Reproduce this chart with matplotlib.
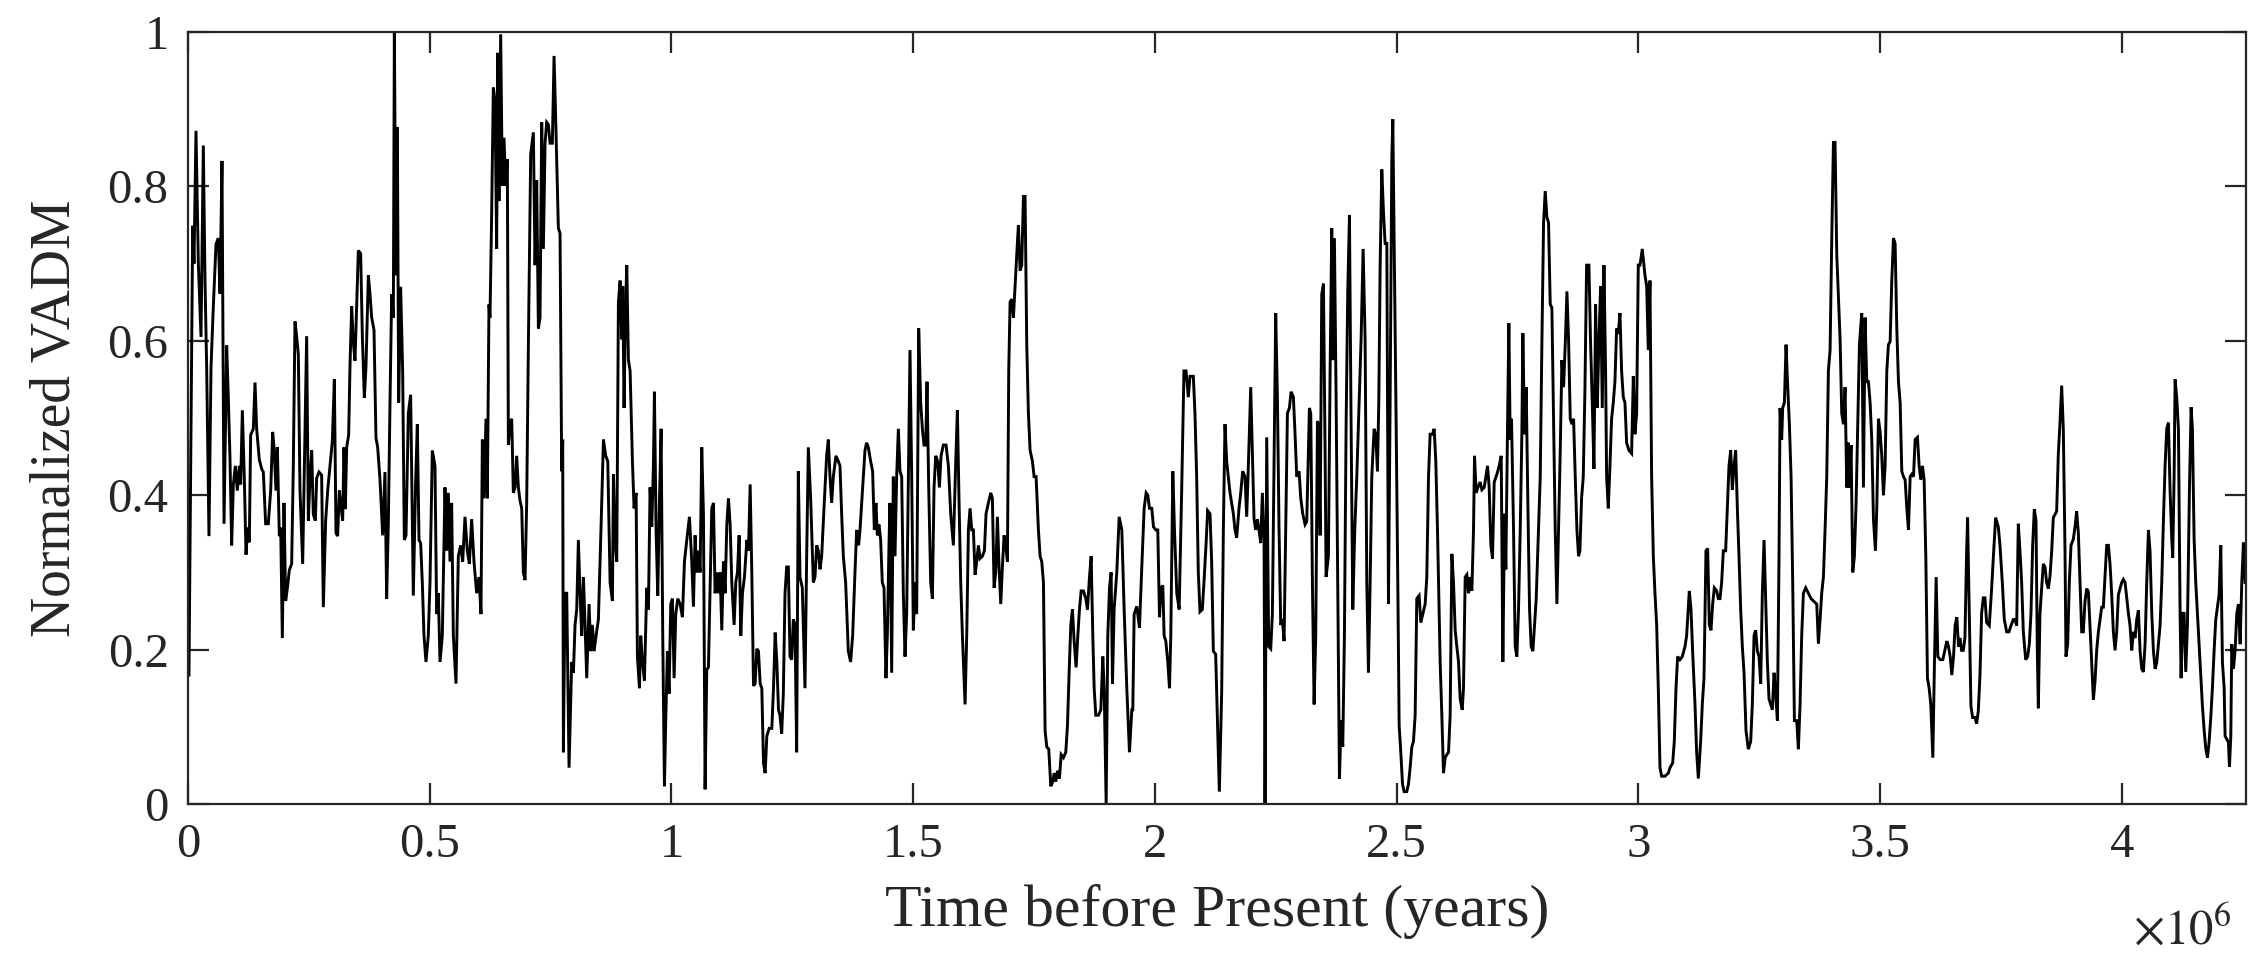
import matplotlib
matplotlib.use("Agg")
import matplotlib.pyplot as plt
import numpy as np

plt.rcParams['font.family'] = ['Liberation Serif', 'DejaVu Serif']
plt.rcParams['mathtext.fontset'] = 'stix'

# ---- data: time before present (kyr) and normalized VADM ----
t_seg1 = [2, 9.7, 12.4, 16.5, 21.4, 26.9, 31.7, 35.2, 38.6, 43.4, 47.6, 52.4, 57.9, 62.7, 66.2, 70.3,
          74.5, 80.0, 83.4, 86.9, 90.3, 93.8, 97.9, 102.0, 106.2, 108.9, 112.4, 116.5, 120.0, 123.4,
          126.8, 129.6, 135.1, 138.6, 142.0, 147.5, 152.4, 155.8, 160.6, 166.1, 171.0, 175.1, 177.9,
          182.0, 184.8, 188.9, 191.7, 195.1, 198.5, 202.0, 205.4, 209.6, 214.4, 217.8, 221.3, 224.7,
          228.2, 231.6, 237.2, 242.0, 245.4, 248.9, 252.3, 255.8, 259.2, 263.4, 266.1, 270.9, 276.4,
          279.9, 284.7, 288.9, 293.7, 298.5, 302.7, 306.1, 309.5, 313.0, 315.7, 319.9, 322.6, 325.4,
          328.2, 332.3, 335.0, 338.5, 341.9, 345.4, 348.8, 352.3, 357.1, 360.6, 364.7, 368.1, 373.0,
          376.4, 379.9, 384.7, 388.8, 392.3]
v_seg1 = [0.167, 0.749, 0.70, 0.872, 0.70, 0.605, 0.853, 0.677, 0.566, 0.347, 0.566, 0.645, 0.725, 0.733,
          0.661, 0.833, 0.363, 0.594, 0.526, 0.446, 0.335, 0.414, 0.438, 0.406, 0.438, 0.414, 0.51, 0.422,
          0.323, 0.358, 0.339, 0.478, 0.486, 0.546, 0.486, 0.446, 0.434, 0.43, 0.363, 0.363, 0.406, 0.482,
          0.462, 0.406, 0.462, 0.347, 0.358, 0.215, 0.39, 0.263, 0.279, 0.303, 0.311, 0.438, 0.625, 0.606,
          0.582, 0.406, 0.311, 0.486, 0.606, 0.367, 0.422, 0.458, 0.375, 0.367, 0.422, 0.43, 0.426, 0.255,
          0.367, 0.406, 0.438, 0.47, 0.55, 0.351, 0.347, 0.406, 0.39, 0.367, 0.462, 0.382, 0.462, 0.478,
          0.566, 0.645, 0.598, 0.574, 0.645, 0.717, 0.713, 0.606, 0.526, 0.566, 0.685, 0.661, 0.63, 0.614,
          0.474, 0.462]

t_seg2 = [397.1, 402.6, 407.4, 410.9, 414.3, 417.8, 421.2, 424.7, 426.8, 430.2, 433.0, 435.7, 439.8, 444.0,
          447.4, 450.9, 455.7, 460.5, 466.0, 470.8, 474.3, 477.8, 481.2, 484.6, 488.1, 492.2, 497.0, 500.5,
          505.3, 510.8, 514.3, 517.7, 521.2, 526.0, 531.5, 535.0, 538.4, 541.9, 545.3, 548.8, 554.3, 559.1,
          563.9, 568.1, 572.9, 577.7, 581.9, 586.7, 591.5, 597.0, 601.9, 606.0, 608.8, 612.2, 616.3, 619.1,
          622.5, 624.6, 628.1, 631.5, 635.0, 638.4, 640.5, 643.2, 646.7, 650.1, 653.6, 657.0, 660.5, 662.6,
          666.0, 669.5, 672.9, 676.4, 679.8, 683.3, 686.7, 690.2, 693.6, 697.1, 700.5, 704.0, 708.8, 714.3,
          717.8, 721.2, 724.7, 728.1, 731.6, 735.0, 738.5, 741.9, 745.4, 748.8, 753.6, 757.1, 761.2, 766.0,
          769.5, 772.9, 775.0, 776.4, 779.8, 783.3, 788.1, 793.6, 797.1, 800.5, 804.0, 807.4, 810.9, 814.3,
          817.8, 821.2, 824.7, 829.5, 833.0, 836.4, 839.9, 844.0, 848.8, 852.3, 855.7, 859.2, 864.0, 868.2,
          873.0, 877.8, 879.9, 883.3, 886.8, 890.2, 893.7, 897.1, 899.2, 901.9, 904.7, 907.5, 910.9, 914.4,
          919.2, 922.6, 926.8, 929.5, 933.7, 936.4, 939.9, 944.0, 948.8, 952.3, 955.7, 959.2, 962.6, 964.7,
          968.1, 971.6, 975.0, 978.5, 981.9, 985.4, 988.1, 991.6, 995.0, 998.5, 1001.9, 1005.4, 1008.8,
          1013.0, 1017.8, 1022.6, 1026.8, 1031.6, 1037.1, 1041.9, 1045.4, 1048.8, 1052.3, 1055.7, 1059.2,
          1062.6, 1066.1, 1069.5, 1073.0, 1076.4, 1079.9, 1083.3, 1086.8, 1090.2, 1093.7, 1097.1, 1100.6,
          1104.0, 1107.5, 1110.9, 1114.4, 1117.8, 1121.3, 1124.7, 1129.5, 1133.0, 1136.4, 1139.9, 1143.3,
          1146.8, 1150.9, 1155.8, 1159.2, 1162.7, 1166.1, 1169.6, 1173.0, 1176.5, 1179.9, 1183.4, 1186.8,
          1190.3, 1193.7, 1197.2, 1202.0, 1207.5, 1211.0, 1214.4, 1217.9, 1221.3]
v_seg2 = [0.42, 0.348, 0.43, 0.266, 0.362, 0.52, 0.66, 0.63, 1.0, 0.685, 0.877, 0.52, 0.67, 0.561, 0.342,
          0.348, 0.506, 0.53, 0.27, 0.417, 0.492, 0.342, 0.338, 0.287, 0.218, 0.184, 0.218, 0.287, 0.458,
          0.438, 0.246, 0.273, 0.184, 0.218, 0.41, 0.328, 0.403, 0.314, 0.39, 0.218, 0.156, 0.321, 0.335,
          0.314, 0.372, 0.328, 0.311, 0.369, 0.314, 0.273, 0.294, 0.246, 0.472, 0.396, 0.499, 0.396, 0.647,
          0.63, 0.767, 0.928, 0.911, 0.719, 0.973, 0.781, 0.997, 0.801, 0.863, 0.801, 0.835, 0.465, 0.492,
          0.499, 0.403, 0.41, 0.451, 0.41, 0.393, 0.383, 0.30, 0.29, 0.39, 0.595, 0.842, 0.87, 0.698, 0.808,
          0.616, 0.63, 0.883, 0.719, 0.856, 0.883, 0.88, 0.856, 0.856, 0.969, 0.87, 0.746, 0.739, 0.431,
          0.472, 0.067, 0.273, 0.273, 0.047, 0.184, 0.17, 0.232, 0.252, 0.342, 0.273, 0.218, 0.294, 0.232,
          0.163, 0.259, 0.198, 0.232, 0.198, 0.218, 0.239, 0.314, 0.39, 0.472, 0.451, 0.444, 0.287, 0.263,
          0.427, 0.342, 0.314, 0.65, 0.678, 0.602, 0.671, 0.513, 0.636, 0.698, 0.575, 0.561, 0.444, 0.383,
          0.403, 0.191, 0.15, 0.218, 0.184, 0.16, 0.28, 0.252, 0.41, 0.359, 0.438, 0.534, 0.355, 0.27, 0.39,
          0.486, 0.218, 0.023, 0.108, 0.198, 0.143, 0.259, 0.266, 0.163, 0.246, 0.266, 0.259, 0.242, 0.314,
          0.342, 0.372, 0.314, 0.256, 0.348, 0.30, 0.328, 0.30, 0.462, 0.376, 0.019, 0.174, 0.177, 0.28,
          0.383, 0.39, 0.273, 0.30, 0.273, 0.30, 0.225, 0.314, 0.273, 0.362, 0.396, 0.362, 0.287, 0.232,
          0.287, 0.30, 0.348, 0.218, 0.273, 0.294, 0.342, 0.328, 0.414, 0.30, 0.153, 0.156, 0.201, 0.198,
          0.156, 0.15, 0.053, 0.04, 0.088, 0.098, 0.098, 0.15, 0.222, 0.184, 0.122]

t_seg3 = [1224.4, 1227.9, 1231.3, 1234.8, 1238.2, 1241.7, 1245.1, 1248.5, 1252.0, 1255.4, 1258.9, 1262.3,
          1265.8, 1270.6, 1276.1, 1279.6, 1283.0, 1287.8, 1293.4, 1296.8, 1300.3, 1303.7, 1307.2, 1310.6,
          1315.4, 1320.9, 1324.4, 1327.8, 1331.3, 1334.7, 1340.2, 1345.0, 1348.5, 1351.9, 1355.4, 1360.2,
          1365.7, 1370.5, 1374.7, 1379.5, 1383.0, 1387.1, 1389.9, 1394.7, 1400.2, 1403.6, 1407.1, 1411.9,
          1416.0, 1419.5, 1422.9, 1425.7, 1429.1, 1432.6, 1436.0, 1439.5, 1443.6, 1446.4, 1449.8, 1451.9,
          1455.4, 1458.8, 1462.3, 1465.7, 1469.2, 1472.6, 1476.1, 1479.5, 1483.0, 1486.4, 1489.9, 1493.3,
          1496.8, 1500.2, 1503.7, 1507.1, 1511.3, 1515.4, 1518.9, 1522.3, 1525.8, 1528.5, 1532.0, 1536.1,
          1539.6, 1543.0, 1546.5, 1550.6, 1554.1, 1557.5, 1562.3, 1567.9, 1572.7, 1577.5, 1583.0, 1587.9,
          1591.3, 1594.8, 1598.2, 1601.7, 1607.2, 1610.6, 1614.1, 1617.5, 1621.0, 1624.4, 1627.9, 1631.3,
          1634.8, 1638.2, 1643.0, 1647.2, 1650.6, 1655.4, 1660.3, 1663.7, 1667.2, 1670.6, 1674.1, 1677.5,
          1681.0, 1684.4, 1687.9, 1691.3, 1694.8, 1697.5, 1700.3, 1703.7, 1707.2, 1710.6, 1714.1, 1717.5,
          1721.0, 1724.4, 1727.9, 1731.3, 1734.8, 1738.2, 1741.7, 1746.5, 1750.0, 1754.1, 1758.9, 1762.4,
          1765.8, 1769.3, 1772.7, 1776.2, 1780.3, 1784.5, 1788.6, 1791.4, 1794.8, 1798.3, 1802.4, 1805.9,
          1810.7, 1815.5, 1819.0, 1822.4, 1825.9, 1829.3, 1832.8, 1836.9, 1840.4, 1843.8, 1847.3, 1852.1,
          1856.9, 1860.4, 1864.5, 1868.0, 1871.4, 1874.2, 1877.6, 1883.1, 1888.0, 1892.1, 1894.9, 1899.0,
          1902.4, 1905.9, 1909.3, 1912.1, 1915.5, 1921.0, 1925.9, 1931.4, 1936.2, 1941.7, 1947.2, 1952.1,
          1954.1, 1956.9, 1962.4, 1967.9, 1972.7, 1977.6, 1981.7, 1985.1, 1988.6, 1993.4, 1996.9, 2001.7,
          2005.8, 2009.3, 2012.7, 2016.2, 2018.9, 2022.4, 2026.5, 2030.0, 2032.7, 2036.9, 2040.3, 2045.1,
          2050.0]
v_seg3 = [0.115, 0.091, 0.143, 0.273, 0.307, 0.307, 0.191, 0.187, 0.239, 0.232, 0.067, 0.431, 0.294, 0.28,
          0.15, 0.321, 0.462, 0.396, 0.287, 0.294, 0.335, 0.328, 0.304, 0.321, 0.383, 0.451, 0.472, 0.424,
          0.39, 0.424, 0.451, 0.444, 0.438, 0.376, 0.321, 0.287, 0.198, 0.184, 0.218, 0.30, 0.355, 0.335,
          0.355, 0.403, 0.458, 0.468, 0.462, 0.444, 0.431, 0.355, 0.39, 0.348, 0.362, 0.342, 0.287, 0.28,
          0.163, 0.218, 0.335, 0.39, 0.17, 0.424, 0.321, 0.424, 0.486, 0.431, 0.424, 0.273, 0.191, 0.246,
          0.424, 0.588, 0.424, 0.225, 0.287, 0.246, 0.616, 0.52, 0.486, 0.465, 0.465, 0.547, 0.41, 0.287,
          0.266, 0.41, 0.451, 0.444, 0.41, 0.451, 0.465, 0.465, 0.438, 0.376, 0.335, 0.444, 0.51, 0.39,
          0.287, 0.218, 0.129, 0.218, 0.355, 0.383, 0.355, 0.355, 0.297, 0.314, 0.335, 0.318, 0.321, 0.328,
          0.376, 0.39, 0.403, 0.396, 0.28, 0.30, 0.372, 0.307, 0.259, 0.307, 0.348, 0.335, 0.314, 0.561,
          0.65, 0.654, 0.63, 0.671, 0.712, 0.75, 0.691, 0.698, 0.787, 0.787, 0.595, 0.506, 0.458, 0.444,
          0.424, 0.424, 0.355, 0.321, 0.314, 0.287, 0.095, 0.074, 0.071, 0.023, 0.029, 0.04, 0.029, 0.043,
          0.033, 0.064, 0.06, 0.067, 0.102, 0.17, 0.232, 0.252, 0.211, 0.177, 0.218, 0.252, 0.276, 0.276,
          0.266, 0.252, 0.294, 0.321, 0.218, 0.15, 0.115, 0.115, 0.122, 0.191, 0.15, 0.0, 0.218, 0.28, 0.30,
          0.156, 0.252, 0.30, 0.372, 0.355, 0.252, 0.15, 0.067, 0.122, 0.122, 0.246, 0.256, 0.228, 0.307,
          0.383, 0.403, 0.40, 0.383, 0.383, 0.359, 0.355, 0.355, 0.242, 0.28, 0.283, 0.218, 0.211, 0.184,
          0.15, 0.218, 0.431, 0.355, 0.273, 0.252]

t_seg4 = [2055.1, 2059.9, 2064.1, 2068.9, 2072.4, 2079.3, 2082.7, 2086.2, 2089.6, 2093.1, 2097.9, 2101.3,
          2105.5, 2108.9, 2113.8, 2117.2, 2120.7, 2125.5, 2128.9, 2133.1, 2137.9, 2141.4, 2144.8, 2148.3,
          2151.7, 2155.2, 2158.6, 2162.1, 2165.5, 2169.0, 2173.8, 2177.3, 2181.4, 2186.2, 2189.7, 2193.1,
          2198.0, 2202.1, 2204.9, 2208.3, 2211.8, 2215.2, 2218.7, 2222.1, 2225.6, 2227.6, 2231.1, 2235.2,
          2239.4, 2242.8, 2246.3, 2249.7, 2253.2, 2256.6, 2260.1, 2263.5, 2267.0, 2270.4, 2273.9, 2278.0,
          2281.5, 2286.3, 2289.7, 2293.2, 2298.0, 2301.5, 2305.6, 2310.4, 2313.9, 2319.4, 2322.2, 2325.6,
          2329.1, 2332.5, 2336.0, 2338.0, 2341.5, 2344.9, 2348.4, 2351.8, 2353.9, 2358.7, 2362.2, 2365.6,
          2367.7, 2371.1, 2374.6, 2378.0, 2381.5, 2384.9, 2388.4, 2391.8, 2395.3, 2398.7, 2402.2, 2405.6,
          2409.1, 2413.2, 2417.4, 2422.2, 2426.3, 2430.5, 2434.6, 2438.1, 2441.5, 2445.0, 2448.4, 2453.2,
          2456.7, 2460.1, 2462.9, 2465.7, 2469.1, 2472.6, 2476.0, 2479.5, 2482.9, 2486.4, 2489.8, 2491.9,
          2495.3, 2498.8, 2502.2, 2505.0, 2508.4, 2511.9, 2515.3, 2520.8, 2524.3, 2527.7, 2531.2, 2534.6,
          2538.1, 2541.5, 2546.3, 2549.8, 2553.9, 2558.8, 2562.2, 2565.7, 2569.1, 2573.9, 2577.4, 2580.8,
          2584.3, 2589.8, 2593.3, 2596.7, 2600.2, 2603.6, 2607.1, 2610.5, 2614.0, 2617.4, 2620.9, 2624.3,
          2627.8, 2631.2, 2635.4, 2638.1, 2641.6, 2645.0, 2648.5, 2651.9, 2655.4, 2658.8, 2660.9, 2664.3,
          2667.8, 2672.6, 2676.1, 2680.9, 2684.3, 2687.8, 2691.2, 2694.7, 2698.1, 2701.6, 2707.1, 2711.9,
          2716.1, 2719.5, 2723.0, 2725.7, 2729.2, 2731.9, 2734.7, 2737.4, 2741.6, 2745.0, 2748.5, 2751.9,
          2755.4, 2758.8, 2760.9, 2764.3, 2767.8, 2771.2, 2774.7, 2778.1, 2781.6, 2785.0, 2788.5, 2793.3,
          2796.8, 2800.2, 2803.7, 2807.1, 2810.6, 2814.0, 2817.5, 2820.9, 2824.4, 2827.8, 2831.3, 2834.7,
          2838.2, 2841.6, 2845.1, 2848.5, 2852.0, 2855.4, 2858.9, 2862.3, 2865.8, 2869.2, 2872.7, 2876.1]
v_seg4 = [0.403, 0.561, 0.561, 0.527, 0.554, 0.554, 0.506, 0.424, 0.30, 0.249, 0.252, 0.287, 0.335, 0.38,
          0.376, 0.314, 0.198, 0.194, 0.115, 0.016, 0.143, 0.355, 0.492, 0.444, 0.424, 0.403, 0.39, 0.376,
          0.355, 0.345, 0.383, 0.403, 0.431, 0.424, 0.372, 0.438, 0.54, 0.438, 0.369, 0.355, 0.369, 0.355,
          0.338, 0.403, 0.342, 0.0, 0.475, 0.204, 0.201, 0.246, 0.438, 0.636, 0.527, 0.355, 0.232, 0.239,
          0.211, 0.355, 0.506, 0.513, 0.534, 0.527, 0.479, 0.424, 0.431, 0.396, 0.376, 0.362, 0.366, 0.513,
          0.506, 0.287, 0.129, 0.218, 0.496, 0.492, 0.348, 0.66, 0.674, 0.458, 0.294, 0.321, 0.561, 0.746,
          0.575, 0.733, 0.527, 0.287, 0.033, 0.108, 0.074, 0.218, 0.492, 0.664, 0.763, 0.492, 0.252, 0.355,
          0.424, 0.52, 0.602, 0.719, 0.602, 0.287, 0.17, 0.287, 0.424, 0.486, 0.479, 0.431, 0.52, 0.698,
          0.822, 0.767, 0.726, 0.726, 0.259, 0.527, 0.835, 0.887, 0.698, 0.492, 0.287, 0.102, 0.067, 0.026,
          0.016, 0.016, 0.026, 0.047, 0.074, 0.081, 0.115, 0.266, 0.27, 0.235, 0.246, 0.259, 0.294, 0.424,
          0.479, 0.479, 0.486, 0.444, 0.355, 0.184, 0.115, 0.04, 0.06, 0.064, 0.067, 0.115, 0.324, 0.287,
          0.225, 0.204, 0.184, 0.136, 0.122, 0.15, 0.294, 0.297, 0.273, 0.294, 0.276, 0.355, 0.451, 0.403,
          0.41, 0.417, 0.407, 0.41, 0.424, 0.438, 0.41, 0.335, 0.318, 0.417, 0.427, 0.438, 0.451, 0.184,
          0.376, 0.304, 0.492, 0.623, 0.472, 0.499, 0.355, 0.204, 0.191, 0.252, 0.355, 0.479, 0.61, 0.479,
          0.54, 0.39, 0.252, 0.204, 0.198, 0.232, 0.266, 0.355, 0.424, 0.595, 0.753, 0.794, 0.76, 0.753,
          0.647, 0.643, 0.492, 0.355, 0.259, 0.355, 0.458, 0.575, 0.54, 0.595, 0.664, 0.602, 0.499, 0.492,
          0.499, 0.424, 0.355, 0.321]

t_seg5 = [2878.9, 2882.3, 2885.8, 2889.2, 2892.7, 2897.5, 2901.0, 2904.4, 2907.9, 2911.3, 2914.8, 2918.2,
          2921.7, 2925.1, 2928.6, 2932.0, 2934.1, 2937.5, 2941.0, 2944.4, 2947.9, 2951.3, 2954.8, 2958.2,
          2961.7, 2965.1, 2968.6, 2972.0, 2975.5, 2980.3, 2985.8, 2989.3, 2992.7, 2996.2, 2999.6, 3003.1,
          3007.9, 3013.4, 3016.9, 3020.3, 3023.8, 3027.2, 3030.7, 3034.1, 3037.6, 3041.0, 3044.5, 3047.9,
          3054.8, 3061.7, 3065.2, 3070.7, 3074.1, 3077.6, 3081.0, 3085.8, 3090.7, 3096.2, 3099.6, 3105.1,
          3108.6, 3112.0, 3116.9, 3120.3, 3123.8, 3128.6, 3132.0, 3135.5, 3139.6, 3143.1, 3146.5, 3150.0,
          3153.4, 3156.9, 3161.7, 3165.1, 3168.6, 3172.0, 3175.5, 3180.3, 3183.8, 3187.2, 3190.7, 3194.1,
          3197.6, 3201.0, 3204.5, 3207.9, 3211.4, 3214.8, 3218.3, 3222.4, 3227.2, 3232.1, 3235.5, 3239.0,
          3242.4, 3245.9, 3249.3, 3252.8, 3256.2, 3259.7, 3263.1, 3266.6, 3270.0, 3273.5, 3276.9, 3280.4,
          3283.8, 3287.3, 3290.7, 3292.8, 3296.2, 3298.3, 3301.8, 3305.2, 3308.7, 3312.1, 3315.6, 3319.0,
          3322.5, 3327.3, 3330.7, 3334.2, 3337.6, 3341.1, 3345.9, 3351.4, 3356.9, 3361.8, 3368.7, 3372.1,
          3375.6, 3379.0, 3382.5, 3385.9, 3389.4, 3392.8, 3396.3, 3399.7, 3403.2, 3406.6, 3410.1, 3413.5,
          3417.0, 3420.4, 3423.9, 3427.3, 3430.8, 3434.2, 3436.3, 3439.7, 3443.2, 3446.6, 3450.1, 3453.5,
          3457.0, 3461.8, 3465.3, 3468.7, 3472.2, 3475.6, 3479.1, 3482.5, 3486.0, 3490.1, 3492.9, 3496.3,
          3499.8, 3503.2, 3506.7, 3510.1, 3513.6, 3517.0, 3520.5, 3523.9, 3527.4, 3530.8, 3534.3, 3537.7,
          3541.2, 3544.6, 3548.1, 3551.5, 3555.0, 3558.4, 3561.9, 3565.3, 3568.8, 3572.2, 3577.0, 3580.5,
          3583.9, 3587.4, 3590.8, 3594.3, 3597.7, 3601.2, 3604.6, 3608.8, 3612.2, 3615.7, 3619.1, 3624.0,
          3629.5, 3634.3, 3637.8, 3641.2, 3644.7, 3648.1, 3651.6, 3655.0, 3658.5, 3661.9]
v_seg5 = [0.328, 0.396, 0.424, 0.534, 0.698, 0.698, 0.595, 0.52, 0.434, 0.647, 0.513, 0.602, 0.671, 0.513,
          0.698, 0.561, 0.424, 0.383, 0.438, 0.499, 0.52, 0.547, 0.616, 0.609, 0.636, 0.561, 0.527, 0.52,
          0.468, 0.458, 0.454, 0.554, 0.479, 0.506, 0.698, 0.698, 0.719, 0.685, 0.671, 0.588, 0.678, 0.424,
          0.321, 0.273, 0.232, 0.15, 0.047, 0.036, 0.036, 0.04, 0.047, 0.053, 0.081, 0.15, 0.191, 0.187,
          0.191, 0.204, 0.218, 0.276, 0.252, 0.198, 0.129, 0.067, 0.033, 0.081, 0.129, 0.163, 0.328, 0.331,
          0.232, 0.225, 0.259, 0.28, 0.276, 0.266, 0.266, 0.287, 0.328, 0.328, 0.383, 0.438, 0.458, 0.407,
          0.438, 0.458, 0.383, 0.321, 0.252, 0.204, 0.17, 0.095, 0.071, 0.081, 0.129, 0.218, 0.225, 0.198,
          0.191, 0.156, 0.273, 0.342, 0.266, 0.184, 0.136, 0.129, 0.122, 0.17, 0.143, 0.108, 0.321, 0.513,
          0.472, 0.513, 0.52, 0.595, 0.54, 0.492, 0.424, 0.287, 0.108, 0.108, 0.071, 0.129, 0.218, 0.273,
          0.28, 0.273, 0.266, 0.263, 0.259, 0.208, 0.239, 0.273, 0.294, 0.355, 0.424, 0.561, 0.588, 0.73,
          0.857, 0.857, 0.712, 0.657, 0.602, 0.506, 0.492, 0.54, 0.41, 0.468, 0.41, 0.465, 0.30, 0.321,
          0.39, 0.492, 0.595, 0.636, 0.41, 0.63, 0.547, 0.547, 0.52, 0.472, 0.369, 0.328, 0.383, 0.499,
          0.482, 0.451, 0.40, 0.438, 0.561, 0.595, 0.599, 0.678, 0.733, 0.726, 0.616, 0.547, 0.52, 0.431,
          0.424, 0.42, 0.383, 0.355, 0.424, 0.427, 0.424, 0.472, 0.475, 0.438, 0.42, 0.438, 0.42, 0.321,
          0.163, 0.15, 0.129, 0.06, 0.184, 0.294, 0.191, 0.187, 0.187, 0.201, 0.211, 0.204, 0.191, 0.167,
          0.191, 0.232, 0.242, 0.204]

t_seg6 = [3664.9, 3668.3, 3671.8, 3675.2, 3678.7, 3680.7, 3684.2, 3687.6, 3691.1, 3695.9, 3699.4, 3702.8,
          3706.3, 3709.7, 3713.2, 3716.6, 3720.1, 3725.6, 3730.4, 3733.9, 3738.7, 3744.2, 3747.7, 3752.5,
          3756.6, 3761.5, 3766.3, 3770.4, 3775.3, 3778.7, 3782.2, 3785.6, 3789.1, 3792.5, 3796.0, 3800.8,
          3804.9, 3808.4, 3811.8, 3815.3, 3818.7, 3822.2, 3824.9, 3827.0, 3830.4, 3833.9, 3837.3, 3840.8,
          3844.2, 3847.7, 3851.1, 3854.6, 3858.0, 3861.5, 3864.9, 3868.4, 3871.8, 3875.3, 3878.7, 3882.2,
          3884.2, 3887.7, 3891.1, 3894.6, 3899.4, 3902.9, 3906.3, 3909.8, 3913.2, 3916.7, 3920.1, 3923.6,
          3927.0, 3930.5, 3933.9, 3937.4, 3940.8, 3944.3, 3947.7, 3951.2, 3954.6, 3958.1, 3961.5, 3965.0,
          3968.4, 3971.9, 3975.3, 3978.8, 3982.2, 3985.7, 3989.1, 3992.6, 3996.0, 3999.5, 4002.9, 4006.4,
          4009.8, 4013.3, 4016.7, 4020.2, 4023.6, 4027.1, 4030.5, 4034.0, 4037.4, 4040.9, 4044.3, 4047.8,
          4051.2, 4054.7, 4058.1, 4061.6, 4065.0, 4068.5, 4071.9, 4075.4, 4078.8, 4082.3, 4085.7, 4089.2,
          4092.6, 4096.1, 4099.5, 4103.0, 4105.0, 4107.8, 4109.9, 4113.3, 4116.8, 4120.2, 4122.3, 4125.7,
          4128.5, 4131.9, 4135.4, 4139.5, 4143.0, 4145.7, 4149.2, 4152.6, 4156.1, 4159.5, 4163.0, 4166.4,
          4169.9, 4173.3, 4176.8, 4180.2, 4183.7, 4187.1, 4190.6, 4194.0, 4197.5, 4200.9, 4204.4, 4207.8,
          4211.3, 4213.3, 4216.8, 4220.2, 4222.3, 4225.1, 4227.1, 4230.6, 4234.0, 4237.5, 4240.9, 4244.4,
          4247.8, 4251.3, 4254.7]
v_seg6 = [0.215, 0.199, 0.199, 0.215, 0.327, 0.371, 0.247, 0.127, 0.112, 0.112, 0.104, 0.12, 0.167, 0.247,
          0.267, 0.267, 0.235, 0.231, 0.279, 0.319, 0.371, 0.359, 0.335, 0.287, 0.239, 0.223, 0.223, 0.231,
          0.239, 0.239, 0.231, 0.363, 0.327, 0.287, 0.223, 0.187, 0.191, 0.207, 0.247, 0.335, 0.382, 0.367,
          0.199, 0.124, 0.247, 0.279, 0.311, 0.307, 0.287, 0.279, 0.295, 0.327, 0.371, 0.375, 0.379, 0.454,
          0.494, 0.542, 0.486, 0.327, 0.191, 0.207, 0.287, 0.335, 0.343, 0.359, 0.379, 0.351, 0.287, 0.223,
          0.223, 0.263, 0.279, 0.275, 0.231, 0.183, 0.135, 0.159, 0.199, 0.223, 0.239, 0.255, 0.255, 0.295,
          0.335, 0.335, 0.311, 0.271, 0.223, 0.199, 0.223, 0.271, 0.279, 0.287, 0.291, 0.287, 0.267, 0.247,
          0.231, 0.199, 0.223, 0.215, 0.239, 0.251, 0.199, 0.175, 0.171, 0.207, 0.287, 0.355, 0.327, 0.247,
          0.199, 0.175, 0.183, 0.207, 0.231, 0.287, 0.367, 0.438, 0.486, 0.494, 0.406, 0.343, 0.319, 0.422,
          0.55, 0.526, 0.486, 0.247, 0.163, 0.247, 0.247, 0.171, 0.231, 0.406, 0.514, 0.486, 0.343, 0.287,
          0.247, 0.207, 0.167, 0.127, 0.096, 0.072, 0.06, 0.08, 0.112, 0.151, 0.199, 0.239, 0.255, 0.271,
          0.335, 0.183, 0.151, 0.088, 0.084, 0.08, 0.048, 0.088, 0.207, 0.175, 0.199, 0.247, 0.259, 0.207,
          0.287, 0.339, 0.287]

x_ticks = [0, 0.5, 1, 1.5, 2, 2.5, 3, 3.5, 4]
y_ticks = [0, 0.2, 0.4, 0.6, 0.8, 1]

time_kyr = np.concatenate([t_seg1, t_seg2, t_seg3, t_seg4, t_seg5, t_seg6])
vadm = np.concatenate([v_seg1, v_seg2, v_seg3, v_seg4, v_seg5, v_seg6])
time_years = time_kyr * 1e3

# ---- figure ----
W, H = 2260, 960
fig = plt.figure(figsize=(W / 100, H / 100), dpi=100)
ax = fig.add_axes([188 / W, 1 - 804 / H, (2245.5 - 188) / W, (804 - 32) / H])

ax.plot(time_years, vadm, color='black', linewidth=2.1, solid_joinstyle='miter')

ax.set_xlim(0, 4.2555e6)
ax.set_ylim(0, 1)
ax.set_xticks([v * 1e6 for v in x_ticks])
ax.set_xticklabels([('%g' % v) for v in x_ticks])
ax.set_yticks(y_ticks)
ax.set_yticklabels([('%g' % v) for v in y_ticks])

axis_col = '#262626'
for s in ax.spines.values():
    s.set_linewidth(1.6)
    s.set_color(axis_col)
ax.tick_params(axis='both', which='both', direction='in', length=15, width=1.6,
               colors=axis_col, labelcolor='#262626', labelsize=35,
               top=True, right=True)
ax.tick_params(axis='x', pad=14)
ax.tick_params(axis='y', pad=14)

ax.set_xlabel('Time before Present (years)', fontsize=43, color='#262626')
ax.set_ylabel('Normalized VADM', fontsize=40, color='#262626')
ax.xaxis.set_label_coords(0.5, -0.103)
ax.yaxis.set_label_coords(-0.052, 0.5)

fig.text(2133 / W, 6 / H, r'$\times10^{6}$', fontsize=35, color='#262626', ha='left', va='bottom')

fig.savefig('out.png', dpi=100, facecolor='white')
